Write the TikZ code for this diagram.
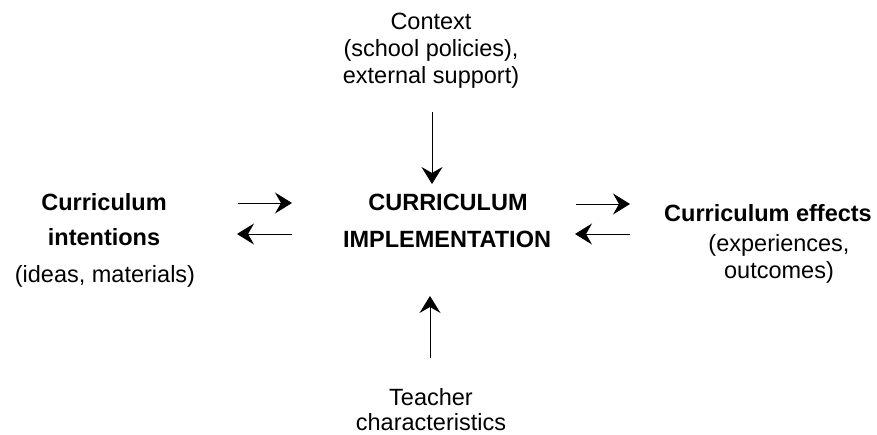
\documentclass[tikz,border=0pt]{standalone}
\usepackage{fontspec}
\setmainfont{Liberation Sans}
\usetikzlibrary{arrows.meta}
\begin{document}
\begin{tikzpicture}[x=1pt,y=-1pt,
  txt/.style={align=center,inner sep=0pt,font=\fontsize{23.5}{27}\selectfont},
  btxt/.style={txt,font=\fontsize{23.5}{27}\selectfont\bfseries},
  arr/.style={line width=0.9pt,-{Stealth[length=17pt,width=21pt,inset=6pt]}}]
\useasboundingbox (0,0) rectangle (877,435);
% top
\node[txt,anchor=base] (ctx1) at (431,30) {Context};
\node[txt,anchor=base] (ctx2) at (431,57) {(school policies),};
\node[txt,anchor=base] (ctx3) at (431,84) {external support)};
% center
\node[btxt,anchor=base] (c1) at (448,211) {CURRICULUM};
\node[btxt,anchor=base] (c2) at (447,248) {IMPLEMENTATION};
% left
\node[btxt,anchor=base] (l1) at (104,211) {Curriculum};
\node[btxt,anchor=base] (l2) at (104,246) {intentions};
\node[txt,anchor=base] (l3) at (105,283) {(ideas, materials)};
% right
\node[btxt,anchor=base] (r1) at (768,222) {Curriculum effects};
\node[txt,anchor=base] (r2) at (779,252) {(experiences,};
\node[txt,anchor=base] (r3) at (779,279) {outcomes)};
% bottom
\node[txt,anchor=base] (b1) at (431,405) {Teacher};
\node[txt,anchor=base] (b2) at (431,430) {characteristics};
% arrow anchors
\coordinate (ta) at (432,112);
\coordinate (tb) at (432,184);
\coordinate (ba) at (430,358);
\coordinate (bb) at (430,296);
\coordinate (l1a) at (238,203);
\coordinate (l1b) at (292,203);
\coordinate (l2a) at (292,234);
\coordinate (l2b) at (237,234);
\coordinate (r1a) at (576,204);
\coordinate (r1b) at (630,204);
\coordinate (r2a) at (630,234);
\coordinate (r2b) at (575,234);
\draw[arr] (ta) -- (tb);
\draw[arr] (ba) -- (bb);
\draw[arr] (l1a) -- (l1b);
\draw[arr] (l2a) -- (l2b);
\draw[arr] (r1a) -- (r1b);
\draw[arr] (r2a) -- (r2b);
\end{tikzpicture}
\end{document}
